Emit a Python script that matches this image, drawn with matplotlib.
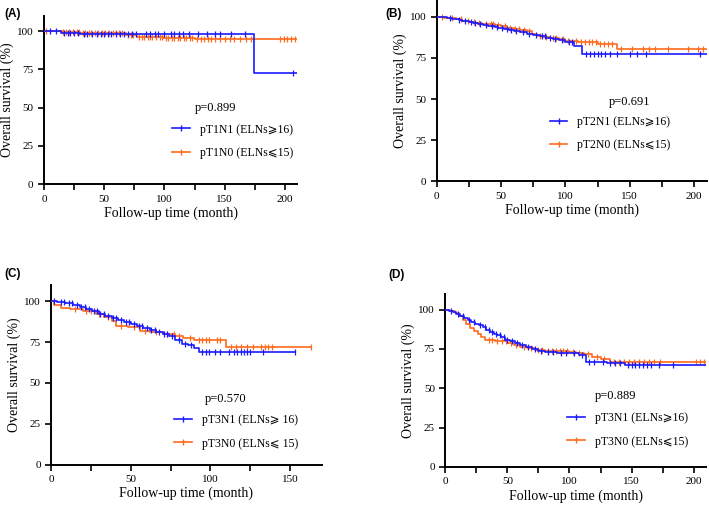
import numpy as np
import matplotlib
matplotlib.use("Agg")
import matplotlib.pyplot as plt
from matplotlib.lines import Line2D

plt.rcParams['font.family'] = ['Liberation Serif', 'DejaVu Sans']

BLUE = '#1a1aff'
ORANGE = '#ff6a1a'

# ---- panel A: pT1 ----
a_blue_t = [0, 14, 30, 174, 210]
a_blue_s = [100, 99, 98, 73, 73]
a_blue_c = [5, 10, 17, 20, 22, 25, 28, 33, 36, 40, 44, 47, 50, 53, 56, 60, 63,
            66, 70, 73, 76, 85, 88, 92, 95, 100, 105, 108, 112, 115, 120, 128,
            135, 142, 146, 155, 167, 207]
a_or_t = [0, 15, 30, 50, 68, 77, 99, 125, 174, 210]
a_or_s = [100, 99.5, 99, 98.5, 97.6, 96.4, 95.8, 95.2, 94.6, 94.6]
a_or_c = [2, 16, 18, 21, 24, 27, 29, 32, 34, 37, 39, 42, 45, 48, 51, 54, 57,
          60, 62, 65, 70, 72, 74, 79, 81, 83, 86, 88, 90, 93, 96, 98, 101, 103,
          106, 108, 111, 113, 116, 118, 121, 123, 127, 130, 133, 136, 139, 142,
          146, 150, 154, 158, 163, 168, 172, 196, 199, 202, 205, 208]

# ---- panel B: pT2 ----
b_blue_t = [0, 8, 12, 17, 20, 25, 28, 32, 36, 40, 45, 48, 52, 56, 60, 65, 70,
            75, 80, 85, 90, 95, 100, 107, 113, 210]
b_blue_s = [100, 99.5, 99, 98.3, 97.6, 97, 96.3, 95.6, 95, 94.4, 93.8, 93.2,
            92.5, 92, 91.4, 90.6, 89.8, 89, 88.2, 87.4, 86.7, 85.9, 85, 82,
            77.5, 77.5]
b_blue_c = [10, 17, 22, 27, 30, 34, 38, 43, 47, 51, 55, 58, 62, 67, 72, 77, 82,
            84, 88, 92, 97, 103, 105, 116, 119, 122, 125, 128, 131, 135, 140,
            150, 156, 163, 205]
b_or_t = [0, 6, 10, 15, 20, 25, 30, 35, 40, 45, 50, 55, 60, 65, 70, 74, 78, 82,
          88, 95, 100, 110, 125, 140, 210]
b_or_s = [100, 99.6, 99.2, 98.6, 97.8, 97, 96.4, 95.8, 95.5, 95, 94.2, 93.5,
          92.8, 92, 91.2, 89.5, 88.5, 88, 87.2, 86.3, 85.4, 84.6, 83.3, 80.5,
          80.5]
b_or_c = [4, 12, 19, 24, 29, 33, 38, 42, 44, 48, 53, 57, 61, 64, 68, 72, 80,
          85, 90, 93, 98, 102, 108, 112, 115, 118, 121, 124, 127, 130, 133, 136,
          143, 152, 160, 165, 170, 180, 195, 203, 207]

# ---- panel C: pT3 ----
c_blue_t = [0, 4, 9, 14, 18, 22, 26, 30, 34, 38, 42, 46, 50, 54, 58, 62, 66,
            70, 74, 78, 82, 86, 90, 93, 153]
c_blue_s = [100, 99.3, 98.6, 97.5, 96.5, 95.2, 93.7, 92.3, 91, 89.7, 88.3, 87,
            85.8, 84.5, 83.3, 82.3, 81, 79.8, 78.6, 76, 74, 73, 71.5, 69, 69]
c_blue_c = [2, 6, 8, 11, 13, 16, 19, 21, 24, 27, 29, 31, 33, 36, 39, 41, 44, 47,
            49, 52, 55, 57, 60, 63, 65, 68, 71, 73, 76, 80, 84, 88, 95, 97, 99,
            103, 106, 112, 115, 117, 119, 121, 123, 125, 133, 153]
c_or_t = [0, 2, 6, 12, 20, 28, 33, 38, 41, 48, 56, 62, 70, 78, 83, 90, 110, 163]
c_or_s = [100, 97.5, 96, 95, 94, 92, 90, 88, 85, 84, 82, 81, 80, 78.5, 77.5,
          76.5, 72.2, 72.2]
c_or_c = [15, 22, 25, 30, 36, 44, 52, 59, 66, 73, 77, 80, 87, 93, 95, 97, 99,
          104, 106, 113, 116, 119, 123, 127, 132, 134, 136, 139, 163]

# ---- panel D: pT3 ----
d_blue_t = [0, 3, 6, 9, 12, 15, 18, 21, 24, 27, 30, 33, 36, 39, 42, 45, 48, 52,
            56, 60, 65, 70, 75, 80, 90, 100, 108, 113, 130, 145, 210]
d_blue_s = [100, 99.3, 98.3, 97, 95.8, 94.6, 93.5, 92.3, 91, 90, 89, 87, 85.5,
            84.5, 84, 82.5, 81, 79.8, 78.5, 77.3, 76.2, 75, 74, 72.8, 72.5,
            72.3, 71, 67, 66.3, 65, 65]
d_blue_c = [5, 10, 14, 19, 23, 28, 32, 35, 38, 41, 44, 47, 50, 54, 58, 62, 67,
            72, 77, 83, 87, 93, 97, 104, 110, 116, 120, 127, 133, 137, 141, 147,
            150, 153, 156, 159, 162, 166, 172, 183]
d_or_t = [0, 4, 8, 11, 14, 17, 20, 23, 26, 29, 32, 40, 50, 55, 60, 66, 72, 80,
          100, 105, 112, 118, 125, 133, 210]
d_or_s = [100, 99, 98, 96, 93.5, 91, 88.5, 86.5, 84.5, 82.5, 80.5, 80, 78.5,
          77.5, 76.3, 75.5, 74.5, 73.5, 73.3, 72.5, 71.5, 70, 68.5, 66.8, 66.8]
d_or_c = [35, 38, 42, 46, 49, 53, 57, 63, 69, 75, 78, 83, 86, 89, 92, 95, 98,
          103, 108, 115, 122, 128, 136, 140, 144, 148, 152, 156, 160, 164, 168,
          173, 202, 205, 208]

panels = [
    dict(label='(A)', pos=[0.062, 0.641, 0.357, 0.328], xmax=210,
         xmaj=[0, 50, 100, 150, 200], ptxt='p=0.899', ppos=(0.597, 0.452),
         lpos=(0.506, 0.36), names=['pT1N1 (ELNs\u2a7e16)', 'pT1N0 (ELNs\u2a7d15)'],
         blue=(a_blue_t, a_blue_s, a_blue_c), orange=(a_or_t, a_or_s, a_or_c),
         tag=(0.006, 0.985)),
    dict(label='(B)', pos=[0.616, 0.647, 0.381, 0.352], xmax=210,
         xmaj=[0, 50, 100, 150, 200], ptxt='p=0.691', ppos=(0.637, 0.436),
         lpos=(0.418, 0.36), names=['pT2N1 (ELNs\u2a7e16)', 'pT2N0 (ELNs\u2a7d15)'],
         blue=(b_blue_t, b_blue_s, b_blue_c), orange=(b_or_t, b_or_s, b_or_c),
         tag=(0.544, 0.985)),
    dict(label='(C)', pos=[0.072, 0.094, 0.382, 0.351], xmax=170,
         xmaj=[0, 50, 100, 150], ptxt='p=0.570', ppos=(0.568, 0.367),
         lpos=(0.454, 0.28), names=['pT3N1 (ELNs\u2a7e 16)', 'pT3N0 (ELNs\u2a7d 15)'],
         blue=(c_blue_t, c_blue_s, c_blue_c), orange=(c_or_t, c_or_s, c_or_c),
         tag=(0.006, 0.477)),
    dict(label='(D)', pos=[0.628, 0.090, 0.368, 0.337], xmax=210,
         xmaj=[0, 50, 100, 150, 200], ptxt='p=0.889', ppos=(0.575, 0.41),
         lpos=(0.467, 0.315), names=['pT3N1 (ELNs\u2a7e16)', 'pT3N0 (ELNs\u2a7d15)'],
         blue=(d_blue_t, d_blue_s, d_blue_c), orange=(d_or_t, d_or_s, d_or_c),
         tag=(0.548, 0.475)),
]


def km(ax, t, s, cens, color):
    t = np.asarray(t, float)
    s = np.asarray(s, float)
    ax.step(t, s, where='post', color=color, lw=1.2, zorder=3)
    c = np.asarray(cens, float)
    idx = np.searchsorted(t, c, side='right') - 1
    ax.plot(c, s[idx], ls='none', marker='|', ms=4.5, mew=0.9, color=color,
            zorder=3)


fig = plt.figure(figsize=(7.09, 5.13), dpi=100)

for p in panels:
    ax = fig.add_axes(p['pos'])
    km(ax, *p['orange'], ORANGE)
    km(ax, *p['blue'], BLUE)
    ax.set_xlim(0, p['xmax'])
    ax.set_ylim(0, 110)
    ax.set_xticks(p['xmaj'])
    ax.set_xticks(np.arange(25, p['xmax'], 50), minor=True)
    ax.set_yticks([0, 25, 50, 75, 100])
    for side in ['top', 'right']:
        ax.spines[side].set_visible(False)
    for side in ['left', 'bottom']:
        ax.spines[side].set_linewidth(1.4)
    ax.tick_params(which='both', direction='out', width=1.2, labelsize=8)
    ax.tick_params(which='major', length=4)
    ax.tick_params(which='minor', length=4)
    ax.set_xlabel('Follow-up time (month)', fontsize=10, labelpad=2)
    ax.set_ylabel('Overall survival (%)', fontsize=10, labelpad=2)
    ax.text(*p['ppos'], p['ptxt'], transform=ax.transAxes, fontsize=9,
            va='center', ha='left')
    handles = [Line2D([], [], color=BLUE, lw=1.2, marker='|', ms=4.5),
               Line2D([], [], color=ORANGE, lw=1.2, marker='|', ms=4.5)]
    ax.legend(handles, p['names'], loc='upper left', bbox_to_anchor=p['lpos'],
              frameon=False, fontsize=8.5, handlelength=1.5, handletextpad=0.85,
              labelspacing=0.95, borderpad=0, borderaxespad=0, markerscale=1,
              numpoints=1)
    fig.text(*p['tag'], p['label'], fontsize=8.5, fontweight='bold',
             family='Liberation Sans', va='top', ha='left')

fig.savefig('out.png', dpi=100)
